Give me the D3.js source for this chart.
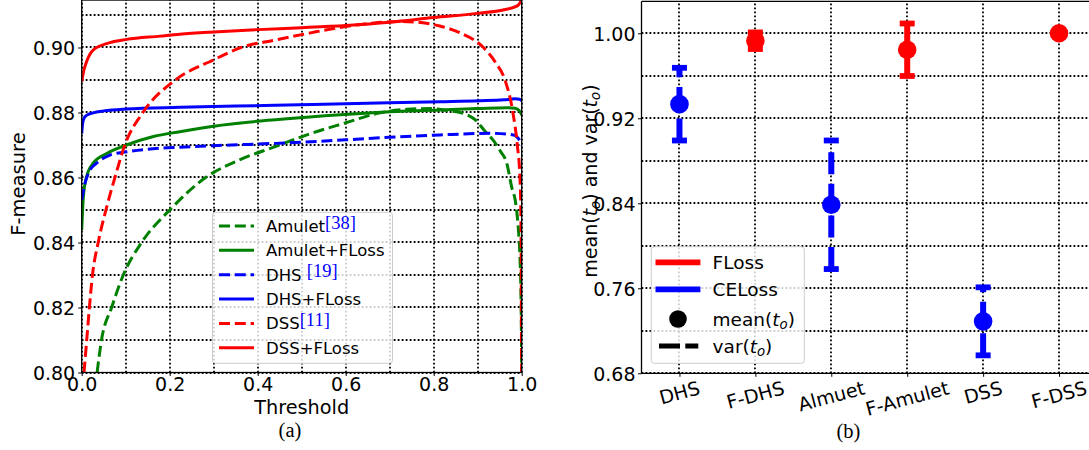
<!DOCTYPE html>
<html><head><meta charset="utf-8">
<script src="https://cdn.jsdelivr.net/npm/d3@7"></script>
<style>
html,body{margin:0;padding:0;background:#fff;}
svg{display:block;}
text{font-family:"DejaVu Sans",sans-serif;fill:#000;}
</style></head>
<body>
<svg id="chart" width="1089" height="450"></svg>
<script>
// ---------- DATA: panel (a) F-measure vs threshold ----------
const amulet = [[0.035,0.80],[0.045,0.81],[0.068,0.82],[0.0945,0.83],[0.136,0.84],[0.2,0.85],[0.284,0.8602],[0.36,0.8655],[0.44,0.8695],[0.52,0.8735],[0.597,0.8767],[0.675,0.8798],[0.74,0.881],[0.793,0.8812],[0.83,0.8806],[0.86,0.880],[0.894,0.8778],[0.915,0.8745],[0.935,0.8715],[0.952,0.868],[0.966,0.8644],[0.977,0.8572],[0.987,0.8515],[0.993,0.843],[0.996,0.8356],[0.999,0.8172],[1.0,0.80]];
const amuletFLoss = [[0,0.8438],[0.0038,0.8541],[0.011,0.8602],[0.026,0.8644],[0.057,0.8674],[0.102,0.870],[0.163,0.8726],[0.223,0.8741],[0.3,0.8758],[0.44,0.8778],[0.597,0.8794],[0.7,0.8802],[0.814,0.8808],[0.9,0.8812],[0.966,0.8815],[0.985,0.8813],[0.995,0.8805],[1.0,0.8792]];
const dhs = [[0,0.8531],[0.0075,0.8582],[0.019,0.8623],[0.034,0.8644],[0.064,0.8669],[0.102,0.8679],[0.178,0.869],[0.223,0.8693],[0.3,0.8698],[0.36,0.8701],[0.44,0.8705],[0.6,0.8716],[0.7,0.8724],[0.814,0.8731],[0.928,0.8736],[0.981,0.8731],[0.995,0.8715],[1.0,0.870]];
const dhsFLoss = [[0,0.8735],[0.002,0.8765],[0.005,0.8782],[0.012,0.8792],[0.026,0.8799],[0.05,0.8805],[0.102,0.8811],[0.223,0.8816],[0.44,0.8822],[0.6,0.8827],[0.814,0.8833],[0.905,0.8836],[0.96,0.8839],[0.985,0.8842],[0.995,0.8841],[1.0,0.8836]];
const dss = [[0.0052,0.80],[0.0114,0.81],[0.0175,0.82],[0.0245,0.83],[0.0375,0.84],[0.055,0.85],[0.0755,0.86],[0.098,0.87],[0.139,0.88],[0.213,0.89],[0.30,0.8962],[0.362,0.90],[0.44,0.9023],[0.52,0.9045],[0.597,0.9064],[0.66,0.9075],[0.72,0.908],[0.77,0.9077],[0.814,0.9066],[0.86,0.9045],[0.913,0.90],[0.94,0.8955],[0.962,0.89],[0.98,0.88],[0.99,0.87],[0.996,0.86],[0.998,0.85],[0.999,0.83],[0.9995,0.81],[1.0,0.80]];
const dssFLoss = [[0,0.8895],[0.005,0.893],[0.011,0.8956],[0.026,0.8992],[0.064,0.9015],[0.102,0.9025],[0.178,0.9035],[0.223,0.9041],[0.3,0.9048],[0.4,0.9055],[0.5,0.9061],[0.6,0.9068],[0.7,0.9078],[0.8,0.9092],[0.9,0.9105],[0.96,0.9116],[0.99,0.9128],[1.0,0.9146]];
const seriesNames = ["Amulet","Amulet+FLoss","DHS ","DHS+FLoss","DSS","DSS+FLoss"];
const seriesRefs = ["[38]","","[19]","","[11]",""];
const xTicksA = [0,0.2,0.4,0.6,0.8,1.0];
const yTicksA = [0.80,0.82,0.84,0.86,0.88,0.90];

// ---------- DATA: panel (b) mean/var of t_o ----------
const methods = ["DHS","F-DHS","Almuet","F-Amulet","DSS","F-DSS"];
const meanTo = [0.9333,0.993,0.8386,0.9845,0.7289,1.000];
const varTo = [0.0342,0.0078,0.0605,0.0247,0.032,0.0];
const lossType = ["CELoss","FLoss","CELoss","FLoss","CELoss","FLoss"];
const yTicksB = [0.68,0.76,0.84,0.92,1.00];

const svg = d3.select("#chart");
const GRID_DASH = "1.8,2.2";
const snap = v => Math.round(v);
function gridLine(sel){
  return sel.attr("stroke","#000").attr("stroke-width",1.8)
    .attr("stroke-dasharray",GRID_DASH);
}

// ================= Panel (a) =================
const A = {l:81.7, r:521.7, t:0.05, b:372.5};
const xA = d3.scaleLinear().domain([0,1]).range([A.l, A.r]);
const yA = d3.scaleLinear().domain([0.80,0.9146]).range([A.b, A.t]);
const gA = svg.append("g");
gA.append("defs").append("clipPath").attr("id","clipA")
  .append("rect").attr("x",A.l).attr("y",A.t).attr("width",A.r-A.l).attr("height",A.b-A.t);

// grid (major + minor)
const gxA = d3.range(0,11).map(i=>i/10);
const gyA = d3.range(0,12).map(i=>0.80+i*0.01);
gA.selectAll(".gvx").data(gxA).join("line")
  .attr("x1",d=>snap(xA(d))).attr("x2",d=>snap(xA(d))).attr("y1",A.b).attr("y2",A.t).call(gridLine);
gA.selectAll(".gvy").data(gyA).join("line")
  .attr("x1",A.l).attr("x2",A.r).attr("y1",d=>snap(yA(d))).attr("y2",d=>snap(yA(d))).call(gridLine);

const lineA = d3.line().x(d=>xA(d[0])).y(d=>yA(d[1])).curve(d3.curveMonotoneX);
const seriesA = [
  {d:amulet, c:"#008000", dash:true},
  {d:amuletFLoss, c:"#008000", dash:false},
  {d:dhs, c:"#0000ff", dash:true},
  {d:dhsFLoss, c:"#0000ff", dash:false},
  {d:dss, c:"#ff0000", dash:true},
  {d:dssFLoss, c:"#ff0000", dash:false}
];
const linesG = gA.append("g").attr("clip-path","url(#clipA)");
seriesA.forEach(s=>{
  linesG.append("path").attr("d",lineA(s.d)).attr("fill","none")
    .attr("stroke",s.c).attr("stroke-width",3)
    .attr("stroke-dasharray",s.dash?"11,4.8":null);
});

// spines
gA.append("rect").attr("x",A.l).attr("y",A.t).attr("width",A.r-A.l).attr("height",A.b-A.t)
  .attr("fill","none").attr("stroke","#000").attr("stroke-width",1.3);

// axes ticks & labels
const axAx = gA.append("g").attr("transform",`translate(0,${A.b})`)
  .call(d3.axisBottom(xA).tickValues(xTicksA).tickFormat(d3.format(".1f")).tickSize(3.5).tickPadding(3));
axAx.select(".domain").remove();
axAx.selectAll("text").attr("font-size",19).attr("font-family","DejaVu Sans").attr("dy",null).attr("y",18);
axAx.selectAll("line").attr("stroke-width",1);
const axAy = gA.append("g").attr("transform",`translate(${A.l},0)`)
  .call(d3.axisLeft(yA).tickValues(yTicksA).tickFormat(d3.format(".2f")).tickSize(3.5).tickPadding(3));
axAy.select(".domain").remove();
axAy.selectAll("text").attr("font-size",19).attr("font-family","DejaVu Sans").attr("x",-6.5).attr("dy","0.36em");
axAy.selectAll("line").attr("stroke-width",1);

gA.append("text").attr("x",(A.l+A.r)/2).attr("y",414).attr("text-anchor","middle")
  .attr("font-size",19.3).text("Threshold");
gA.append("text").attr("transform","translate(25,184) rotate(-90)").attr("text-anchor","middle")
  .attr("font-size",19.5).text("F-measure");
gA.append("text").attr("x",290).attr("y",437).attr("text-anchor","middle")
  .style("font-family","'Liberation Serif',serif").attr("font-size",20.5).text("(a)");

// legend (a)
const legA = gA.append("g");
legA.append("rect").attr("x",212.5).attr("y",212.3).attr("width",180).attr("height",151)
  .attr("rx",3).attr("fill","#fff").attr("fill-opacity",0.8).attr("stroke","#cccccc").attr("stroke-width",1);
seriesA.forEach((s,i)=>{
  const y = 226 + i*24.35;
  legA.append("line").attr("x1",219).attr("x2",254).attr("y1",y).attr("y2",y)
    .attr("stroke",s.c).attr("stroke-width",3).attr("stroke-dasharray",s.dash?"11,4.8":null);
  const t = legA.append("text").attr("x",266).attr("y",y+6).attr("font-size",16.5).attr("xml:space","preserve");
  t.append("tspan").text(seriesNames[i]);
  if (seriesRefs[i]) {
    t.append("tspan").attr("dy",-3.5).attr("fill","#0000ff").attr("font-size",18.5)
      .style("font-family","'Liberation Serif',serif").text(seriesRefs[i]);
  }
});

// ================= Panel (b) =================
const B = {l:641.5, r:1097, t:1.4, b:373.3};
const xB = d3.scaleLinear().domain([-0.5,5.5]).range([B.l, B.r]);
const yB = d3.scaleLinear().domain([0.68,1.03]).range([B.b, B.t]);
const gB = svg.append("g");
const gyB = d3.range(0,9).map(i=>0.68+i*0.04);
gB.selectAll(".gbx").data(methods).join("line")
  .attr("x1",(d,i)=>snap(xB(i))).attr("x2",(d,i)=>snap(xB(i))).attr("y1",B.b).attr("y2",B.t).call(gridLine);
gB.selectAll(".gby").data(gyB).join("line")
  .attr("x1",B.l).attr("x2",B.r).attr("y1",d=>snap(yB(d))).attr("y2",d=>snap(yB(d))).call(gridLine);

const colorOf = t => t==="FLoss" ? "#ff0000" : "#0000ff";
methods.forEach((m,i)=>{
  const c = colorOf(lossType[i]);
  const x = xB(i), lo = yB(meanTo[i]-varTo[i]), hi = yB(meanTo[i]+varTo[i]);
  if (varTo[i] > 0) {
    gB.append("path").attr("d",`M${x},${lo}L${x},${hi}`).attr("stroke",c)
      .attr("stroke-width",6).attr("stroke-dasharray","22,9.6").attr("fill","none");
    [lo,hi].forEach(yy=>{
      gB.append("line").attr("x1",x-7.5).attr("x2",x+7.5).attr("y1",yy).attr("y2",yy)
        .attr("stroke",c).attr("stroke-width",5.8);
    });
  }
  gB.append("circle").attr("cx",x).attr("cy",yB(meanTo[i])).attr("r",9.3).attr("fill",c);
});

// spines
gB.append("line").attr("x1",B.l).attr("x2",B.l).attr("y1",B.t).attr("y2",B.b).attr("stroke","#000").attr("stroke-width",1.3);
gB.append("line").attr("x1",B.l).attr("x2",B.r).attr("y1",B.b).attr("y2",B.b).attr("stroke","#000").attr("stroke-width",1.3);
gB.append("line").attr("x1",B.l).attr("x2",B.r).attr("y1",B.t).attr("y2",B.t).attr("stroke","#000").attr("stroke-width",1.3);

const axBy = gB.append("g").attr("transform",`translate(${B.l},0)`)
  .call(d3.axisLeft(yB).tickValues(yTicksB).tickFormat(d3.format(".2f")).tickSize(3.5).tickPadding(3));
axBy.select(".domain").remove();
axBy.selectAll("text").attr("font-size",19).attr("font-family","DejaVu Sans").attr("x",-6).attr("dy","0.36em");
axBy.selectAll("line").attr("stroke-width",1);
const axBx = gB.append("g").attr("transform",`translate(0,${B.b})`)
  .call(d3.axisBottom(xB).tickValues(d3.range(methods.length)).tickFormat(()=>"").tickSize(3.5));
axBx.select(".domain").remove();
axBx.selectAll("line").attr("stroke-width",1);

const ang = 15*Math.PI/180;
methods.forEach((m,i)=>{
  const t = gB.append("text").attr("font-size",19).attr("text-anchor","middle")
    .attr("dominant-baseline","central").text(m);
  const bb = t.node().getBBox();
  const H = bb.width*Math.sin(ang) + bb.height*Math.cos(ang);
  t.attr("transform",`translate(${xB(i)},${376.5 + H/2}) rotate(-15)`);
});

// y label with math
const yl = gB.append("text").attr("transform","translate(597,181) rotate(-90)")
  .attr("text-anchor","middle").attr("font-size",19);
function mathT(sel, pre, post){
  sel.append("tspan").text(pre);
  sel.append("tspan").attr("font-style","italic").text("t");
  sel.append("tspan").attr("font-size",13.3).attr("font-style","italic").attr("dy",3).text("o");
  sel.append("tspan").attr("dy",-3).text(post);
}
yl.attr("xml:space","preserve");
mathT(yl,"mean(",")");
yl.append("tspan").text(" and ");
mathT(yl,"var(",")");

gB.append("text").attr("x",848.5).attr("y",438).attr("text-anchor","middle")
  .style("font-family","'Liberation Serif',serif").attr("font-size",20.5).text("(b)");

// legend (b)
const legB = gB.append("g");
legB.append("rect").attr("x",651.3).attr("y",246.7).attr("width",153).attr("height",116.6)
  .attr("rx",3).attr("fill","#fff").attr("fill-opacity",0.8).attr("stroke","#cccccc").attr("stroke-width",1);
const legItems = ["FLoss","CELoss","mean","var"];
const legY = [262.3,289.3,319,346];
legItems.forEach((k,i)=>{
  const y = legY[i];
  if (k==="FLoss" || k==="CELoss") {
    legB.append("line").attr("x1",655.5).attr("x2",700.4).attr("y1",y).attr("y2",y)
      .attr("stroke",colorOf(k)).attr("stroke-width",5.8);
    legB.append("text").attr("x",712.6).attr("y",y+6.8).attr("font-size",18.5).text(k);
  } else if (k==="mean") {
    legB.append("circle").attr("cx",678).attr("cy",y).attr("r",8.8).attr("fill","#000");
    const t = legB.append("text").attr("x",712.6).attr("y",y+6.8).attr("font-size",18.5);
    mathT(t,"mean(",")");
  } else {
    legB.append("line").attr("x1",659).attr("x2",698.3).attr("y1",y).attr("y2",y)
      .attr("stroke","#000").attr("stroke-width",5).attr("stroke-dasharray","21,5.3");
    const t = legB.append("text").attr("x",712.6).attr("y",y+6.8).attr("font-size",18.5);
    mathT(t,"var(",")");
  }
});
</script>
</body></html>
